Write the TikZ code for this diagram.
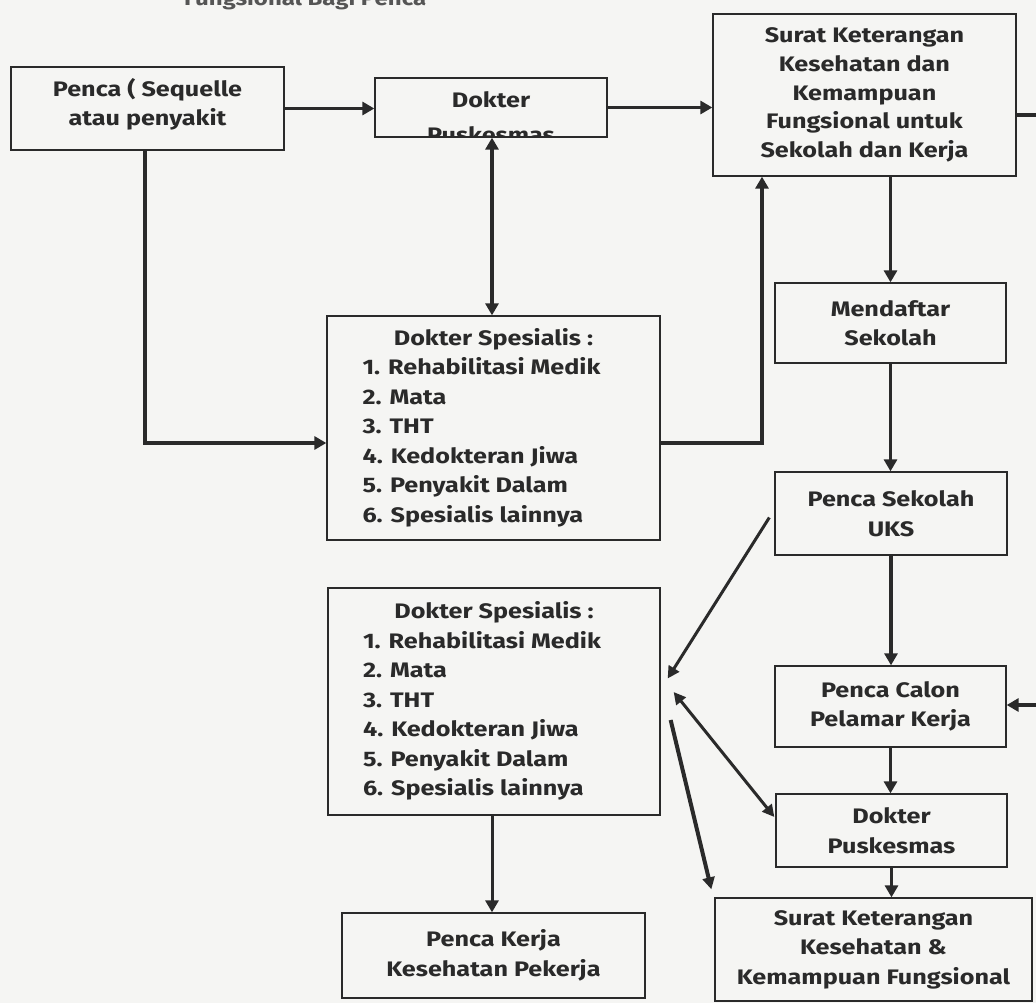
\documentclass[tikz,border=0pt]{standalone}
\usepackage{fontspec}
\setmainfont{Fira Sans}[FakeStretch=1.2]
\usetikzlibrary{arrows.meta}
\definecolor{ink}{HTML}{2A2A2A}
\definecolor{paper}{HTML}{F5F5F3}
\definecolor{titlegray}{HTML}{555555}
\begin{document}
\begin{tikzpicture}[x=1pt,y=-1pt,
  box/.style={draw=ink, line width=1.3pt, inner sep=0pt, align=center,
    font=\fontsize{21}{29.5}\selectfont\bfseries, text=ink},
  txt/.style={inner sep=0pt, align=center,
    font=\fontsize{21}{29.5}\selectfont\bfseries, text=ink},
  conn/.style={draw=ink, line width=3.5pt, -{Triangle[length=12pt,width=13pt]}},
  connb/.style={draw=ink, line width=3.5pt, {Triangle[length=12pt,width=13pt]}-{Triangle[length=12pt,width=13pt]}},
  diag/.style={draw=ink, line width=3pt, -{Triangle[length=12pt,width=12pt]}},
  diagb/.style={draw=ink, line width=3pt, {Triangle[length=12pt,width=12pt]}-{Triangle[length=12pt,width=12pt]}}
]
\useasboundingbox (0,0) rectangle (1036,1003);
\fill[paper] (0,0) rectangle (1036,1003);
\clip (0,0) rectangle (1036,1003);

% title (cut at the top, as in the reference)
\node[anchor=base west, inner sep=0pt, text=titlegray,
  font=\fontsize{20}{24}\selectfont\bfseries] (title) at (184,6) {Fungsional Bagi Penca};

% boxes
\node[box, minimum width=273pt, minimum height=83pt] (A) at (147.5,108.5) {};
\node[txt] (Atext) at (147.5,104.5) {Penca ( Sequelle\\atau penyakit};

\node[box, minimum width=232pt, minimum height=59pt] (B) at (491,107.5) {};
\node[txt, anchor=base] (Btext) at (491,108) {Dokter};
\begin{scope}
  \clip (B.north west) rectangle (B.south east);
  \node[txt, anchor=base] (Btext2) at (491,143) {Puskesmas};
\end{scope}

\node[box, minimum width=303pt, minimum height=162pt,
  font=\fontsize{21}{28.75}\selectfont\bfseries] (C) at (864.5,95)
  {Surat Keterangan\\Kesehatan dan\\Kemampuan\\Fungsional untuk\\Sekolah dan Kerja};

\node[box, minimum width=333pt, minimum height=224pt] (DS1) at (493.5,428)
  {\begin{tabular}{@{}l@{\hspace{24pt}}}
   \multicolumn{1}{@{}c@{}}{Dokter Spesialis :}\\
   1. Rehabilitasi Medik\\ 2. Mata\\ 3. THT\\ 4. Kedokteran Jiwa\\
   5. Penyakit Dalam\\ 6. Spesialis lainnya
   \end{tabular}};

\node[box, minimum width=332pt, minimum height=227pt] (DS2) at (494,701.5)
  {\begin{tabular}{@{}l@{\hspace{24pt}}}
   \multicolumn{1}{@{}c@{}}{Dokter Spesialis :}\\
   1. Rehabilitasi Medik\\ 2. Mata\\ 3. THT\\ 4. Kedokteran Jiwa\\
   5. Penyakit Dalam\\ 6. Spesialis lainnya
   \end{tabular}};

\node[box, minimum width=231pt, minimum height=80pt] (M) at (890.5,323) {Mendaftar\\Sekolah};
\node[box, minimum width=232pt, minimum height=83pt] (PSU) at (891,513.5) {Penca Sekolah\\UKS};
\node[box, minimum width=231pt, minimum height=81pt] (PC) at (890.5,706.5) {Penca Calon\\Pelamar Kerja};
\node[box, minimum width=231pt, minimum height=73pt] (DP) at (891.5,830.5) {Dokter\\Puskesmas};
\node[box, minimum width=317pt, minimum height=103pt] (S2) at (873.5,949.5)
  {Surat Keterangan\\Kesehatan \&\\Kemampuan Fungsional};
\node[box, minimum width=303pt, minimum height=85pt] (PK) at (493.5,955.5) {Penca Kerja\\Kesehatan Pekerja};

% connectors
\draw[conn] (A.east) -- (A.east -| B.west);
\draw[conn] (B.east) -- (B.east -| C.west);
\draw[conn] (C.east |- 0,115) -- (1042,115) -- (1042,705) -- (PC.east |- 0,705);
\draw[conn] (C.south -| M.north) -- (M.north);
\draw[conn] (DS1.east |- 0,443) -- (762,443) -- (C.south -| 762,0);
\draw[connb] (B.south -| 492,0) -- (DS1.north -| 492,0);
\draw[conn] (A.south -| 145,0) -- (145,443) -- (DS1.west |- 0,443);
\draw[conn] (M.south) -- (M.south |- PSU.north);
\draw[conn] (PSU.south) -- (PSU.south |- PC.north);
\draw[conn, line width=3pt] (PC.south) -- (PC.south |- DP.north);
\draw[conn, line width=3pt] (DP.south) -- (DP.south |- S2.north);
\draw[conn, line width=3pt] (DS2.south -| 492,0) -- (PK.north -| 492,0);

\draw[diag] ([xshift=-5pt,yshift=-4pt]PSU.west) -- ([xshift=7pt,yshift=23pt]DS2.east);
\draw[diagb] ([xshift=13pt,yshift=9.5pt]DS2.east) -- ([xshift=-1pt,yshift=13.5pt]DP.west);
\draw[diag, line width=4pt] ([xshift=10pt,yshift=-18.5pt]DS2.east) -- ([xshift=-3pt,yshift=8pt]S2.north west);
\end{tikzpicture}
\end{document}
